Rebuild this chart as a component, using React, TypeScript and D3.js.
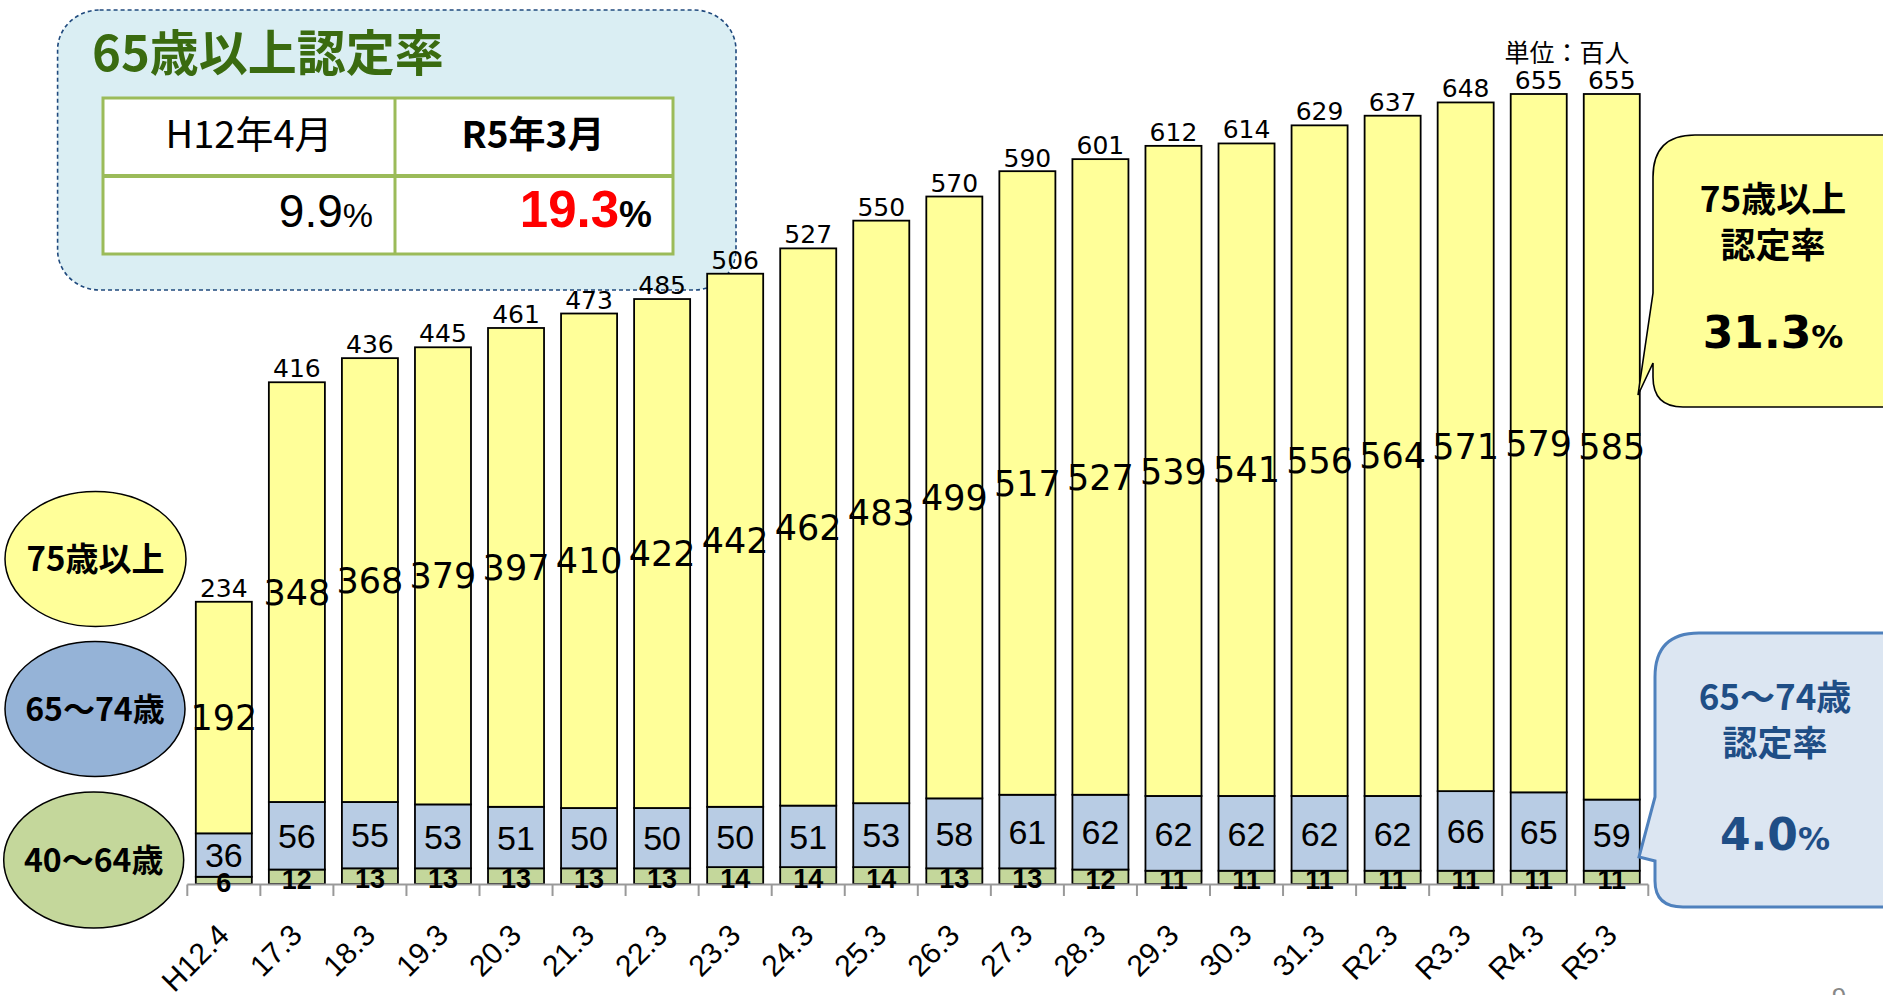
import React from "react";
import * as d3 from "d3";

const categories = ["H12.4","17.3","18.3","19.3","20.3","21.3","22.3","23.3","24.3","25.3","26.3","27.3","28.3","29.3","30.3","31.3","R2.3","R3.3","R4.3","R5.3"];
const age40to64 = [6,12,13,13,13,13,13,14,14,14,13,13,12,11,11,11,11,11,11,11];
const age65to74 = [36,56,55,53,51,50,50,50,51,53,58,61,62,62,62,62,62,66,65,59];
const age75plus = [192,348,368,379,397,410,422,442,462,483,499,517,527,539,541,556,564,571,579,585];
const totals = [234,416,436,445,461,473,485,506,527,550,570,590,601,612,614,629,637,648,655,655];

const seriesKeys = ["a40", "a65", "a75"];
const seriesFill: Record<string, string> = { a40: "#C4D79B", a65: "#B8CCE4", a75: "#FFFF99" };

const W = 1883, H = 995;
const JP = "'Noto Sans CJK JP', 'Noto Sans', sans-serif";

export default function App() {
  const rows = categories.map((c, i) => ({ cat: c, a40: age40to64[i], a65: age65to74[i], a75: age75plus[i], total: totals[i] }));
  const stack = d3.stack<any>().keys(seriesKeys)(rows);
  const x = d3.scaleBand<string>().domain(categories).range([187.3, 1648.3]).paddingInner(0.233).paddingOuter(0.1165);
  const y = d3.scaleLinear().domain([0, 655]).range([884, 94]);
  const step = x.step();
  const bw = x.bandwidth();
  const x0 = x.range()[0];

  const yl = { L: 1653, T: 135, B: 407, R: 1905, r: 42 };
  const yellowPath = `M${yl.L + yl.r},${yl.T} H${yl.R} V${yl.B} H${yl.L + 30} Q${yl.L},${yl.B} ${yl.L},${yl.B - 30} V363 L1638,395 L${yl.L},293 V${yl.T + yl.r} Q${yl.L},${yl.T} ${yl.L + yl.r},${yl.T} Z`;
  const bl = { L: 1655, T: 633, B: 907, R: 1905, r: 44 };
  const bluePath = `M${bl.L + bl.r},${bl.T} H${bl.R} V${bl.B} H${bl.L + 28} Q${bl.L},${bl.B} ${bl.L},${bl.B - 26} V861 L1639,857 L${bl.L},797 V${bl.T + bl.r} Q${bl.L},${bl.T} ${bl.L + bl.r},${bl.T} Z`;

  return (
    <svg width={W} height={H} style={{ position: "absolute", left: 0, top: 0, background: "#fff" }} xmlns="http://www.w3.org/2000/svg">
      <rect x={0} y={0} width={W} height={H} fill="#fff" />

      {/* top-left summary box */}
      <rect x={57.6} y={10} width={678.4} height={280} rx={42} ry={40} fill="#DAEEF3" stroke="#1F497D" strokeWidth={1.6} strokeDasharray="4 3" />
      <text x={92} y={71} fontFamily={JP} fontWeight={700} fontSize={49} fill="#3A6B10">65歳以上認定率</text>
      <rect x={103} y={98} width={570} height={156} fill="#fff" stroke="#9BBB59" strokeWidth={3} />
      <line x1={395} y1={98} x2={395} y2={254} stroke="#9BBB59" strokeWidth={3} />
      <line x1={103} y1={176} x2={673} y2={176} stroke="#9BBB59" strokeWidth={4} />
      <text x={249} y={148} textAnchor="middle" fontFamily={JP} fontSize={38} fill="#000">H12年4月</text>
      <text x={533} y={148} textAnchor="middle" fontFamily={JP} fontWeight={700} fontSize={37} fill="#000">R5年3月</text>
      <text x={373} y={227} textAnchor="end" fontFamily="'Liberation Sans', Arial, sans-serif" fill="#000">
        <tspan fontSize={46}>9.9</tspan><tspan fontSize={34}>%</tspan>
      </text>
      <text x={652} y={227} textAnchor="end" fontFamily="'Liberation Sans', Arial, sans-serif" fontWeight={700}>
        <tspan fontSize={51} fill="#FF0000">19.3</tspan><tspan fontSize={37} fill="#000">%</tspan>
      </text>

      {/* legend ellipses */}
      <ellipse cx={95.5} cy={559} rx={90.5} ry={67.5} fill="#FFFF99" stroke="#000" strokeWidth={1.5} />
      <text x={95.5} y={571} textAnchor="middle" fontFamily={JP} fontWeight={700} fontSize={33} fill="#000">75歳以上</text>
      <ellipse cx={95} cy={709} rx={90} ry={67.5} fill="#95B3D7" stroke="#000" strokeWidth={1.5} />
      <text x={95} y={721} textAnchor="middle" fontFamily={JP} fontWeight={700} fontSize={32} fill="#000">65～74歳</text>
      <ellipse cx={93.7} cy={860} rx={90} ry={68} fill="#C4D79B" stroke="#000" strokeWidth={1.5} />
      <text x={93.7} y={872} textAnchor="middle" fontFamily={JP} fontWeight={700} fontSize={32} fill="#000">40～64歳</text>

      {/* bars */}
      {stack.map((s) => (
        <g key={s.key}>
          {s.map((d, i) => (
            <rect key={i} x={x(categories[i])} y={y(d[1])} width={bw} height={y(d[0]) - y(d[1])}
              fill={seriesFill[s.key]} stroke="#000" strokeWidth={1.8} />
          ))}
        </g>
      ))}

      {/* axis */}
      <line x1={x0} y1={884.5} x2={x0 + step * categories.length} y2={884.5} stroke="#999" strokeWidth={2} />
      {d3.range(categories.length + 1).map((i) => (
        <line key={i} x1={x0 + i * step} y1={884.5} x2={x0 + i * step} y2={896} stroke="#999" strokeWidth={2} />
      ))}

      {/* segment labels */}
      {stack.map((s) => (
        <g key={"l" + s.key}>
          {s.map((d, i) => {
            const cx = (x(categories[i]) as number) + bw / 2;
            const mid = (y(d[0]) + y(d[1])) / 2;
            const v = d[1] - d[0];
            if (s.key === "a75") {
              return <text key={i} x={cx} y={mid + 12.6} textAnchor="middle" fontFamily="'DejaVu Sans', Verdana, sans-serif" fontSize={35} fill="#000">{v}</text>;
            }
            if (s.key === "a65") {
              return <text key={i} x={cx} y={mid + 12.2} textAnchor="middle" fontFamily="'Liberation Sans', Arial, sans-serif" fontSize={34} fill="#000">{v}</text>;
            }
            return <text key={i} x={cx} y={mid + 12} textAnchor="middle" fontFamily="'Liberation Sans', Arial, sans-serif" fontWeight={700} fontSize={27} fill="#000">{v}</text>;
          })}
        </g>
      ))}

      {/* totals */}
      {rows.map((r, i) => (
        <text key={"t" + i} x={(x(r.cat) as number) + bw / 2} y={y(r.total) - 5} textAnchor="middle" fontFamily="'DejaVu Sans', Verdana, sans-serif" fontSize={25} fill="#000">{r.total}</text>
      ))}

      {/* x labels */}
      {categories.map((c, i) => {
        const cx = (x(c) as number) + bw / 2;
        return (
          <text key={"x" + i} transform={`translate(${cx + 7},937) rotate(-45)`} textAnchor="end" fontFamily="'Liberation Sans', Arial, sans-serif" fontSize={30} fill="#000">{c}</text>
        );
      })}

      <text x={1567} y={62} textAnchor="middle" fontFamily={JP} fontSize={25} fill="#000">単位：百人</text>

      {/* callouts */}
      <path d={yellowPath} fill="#FFFF99" stroke="#000" strokeWidth={1.6} />
      <text x={1773} y={212} textAnchor="middle" fontFamily={JP} fontWeight={700} fontSize={35} fill="#000">75歳以上</text>
      <text x={1773} y={258} textAnchor="middle" fontFamily={JP} fontWeight={700} fontSize={35} fill="#000">認定率</text>
      <text x={1773} y={348} textAnchor="middle" fontFamily="'DejaVu Sans', Verdana, sans-serif" fontWeight={700} fill="#000">
        <tspan fontSize={44}>31.3</tspan><tspan fontSize={32}>%</tspan>
      </text>

      <path d={bluePath} fill="#DCE6F2" stroke="#4F81BD" strokeWidth={3} />
      <text x={1775} y={710} textAnchor="middle" fontFamily={JP} fontWeight={700} fontSize={35} fill="#1F4E86">65～74歳</text>
      <text x={1775} y={756} textAnchor="middle" fontFamily={JP} fontWeight={700} fontSize={35} fill="#1F4E86">認定率</text>
      <text x={1775} y={850} textAnchor="middle" fontFamily="'DejaVu Sans', Verdana, sans-serif" fontWeight={700} fill="#1F4E86">
        <tspan fontSize={44}>4.0</tspan><tspan fontSize={32}>%</tspan>
      </text>

      <text x={1839} y={1006} textAnchor="middle" fontFamily="'Liberation Sans', Arial, sans-serif" fontSize={26} fill="#888">9</text>
    </svg>
  );
}
